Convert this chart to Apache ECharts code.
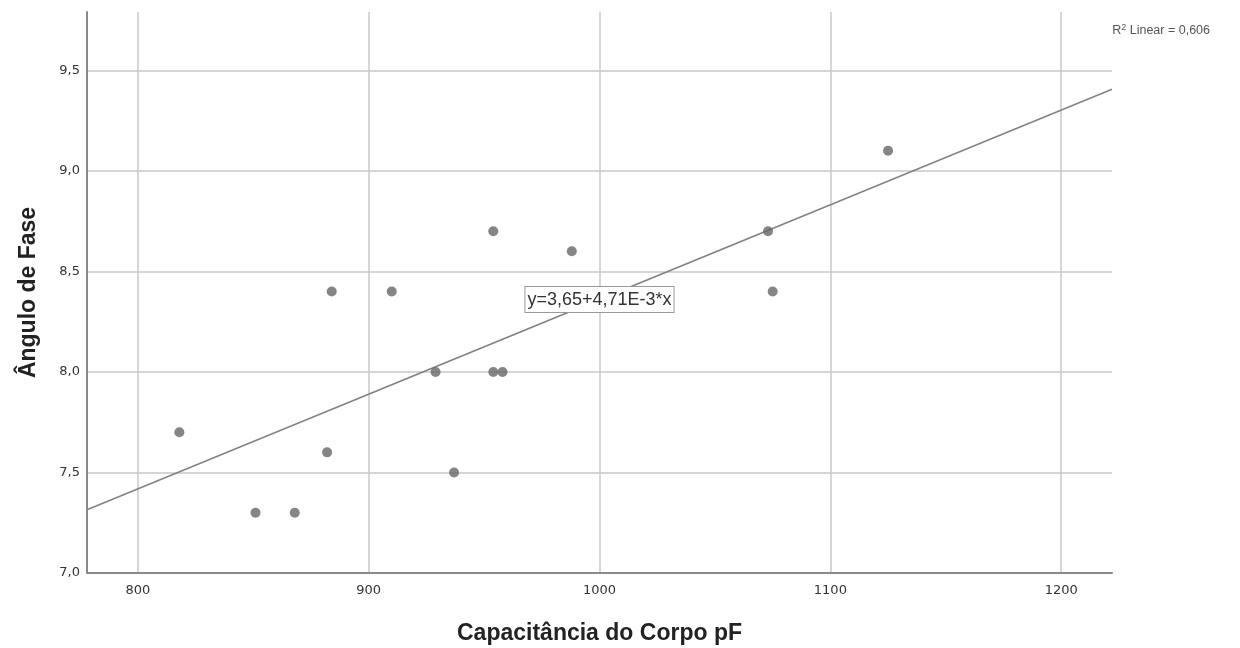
<!DOCTYPE html>
<html>
<head>
<meta charset="utf-8">
<script src="https://cdn.jsdelivr.net/npm/echarts@6/dist/echarts.min.js"></script>
<style>
html,body{margin:0;padding:0;background:#fff;}
#chart{width:1240px;height:648px;}
</style>
</head>
<body>
<div id="chart"></div>
<script>
// Capacitância do corpo (pF) versus ângulo de fase
const capacitancia = [818, 851, 868, 882, 884, 910, 929, 937, 954, 954, 958, 988, 1073, 1075, 1125];
const anguloFase   = [7.7, 7.3, 7.3, 7.6, 8.4, 8.4, 8.0, 7.5, 8.7, 8.0, 8.0, 8.6, 8.7, 8.4, 9.1];

// Linear fit reported with the chart
const intercepto = 3.65;
const inclinacao = 4.71e-3;
const r2 = '0,606';

const xTicks = [800, 900, 1000, 1100, 1200];
const xMin = 778, xMax = 1222;
const yMin = 7, yMax = 9.79, yStep = 0.5;

const pontos = capacitancia.map((c, i) => [c, anguloFase[i]]);
const reta = [[xMin, intercepto + inclinacao * xMin], [xMax, intercepto + inclinacao * xMax]];

const fmt = v => String(v).replace('.', ',');
const FONT = '"Liberation Sans", Arial, sans-serif';
const FONT_TICK = '"DejaVu Sans", Verdana, sans-serif';

const chart = echarts.init(document.getElementById('chart'), null, {renderer: 'canvas'});
chart.setOption({
  animation: false,
  backgroundColor: '#ffffff',
  grid: {left: 87, right: 128, top: 12, bottom: 75, containLabel: false, outerBoundsMode: 'none'},
  xAxis: {
    type: 'value', min: xMin, max: xMax,
    name: 'Capacitância do Corpo pF', nameLocation: 'middle', nameGap: 49, nameMoveOverlap: false,
    nameTextStyle: {fontFamily: FONT, fontSize: 23, fontWeight: 'bold', color: '#222'},
    axisLine: {show: true, onZero: false, lineStyle: {color: '#8a8a8a', width: 2}},
    axisTick: {show: false, customValues: xTicks},
    axisLabel: {customValues: xTicks, fontFamily: FONT_TICK, fontSize: 13, color: '#333', margin: 11,
      formatter: v => String(v)},
    splitLine: {show: true, showMinLine: true, showMaxLine: true, lineStyle: {color: '#c8c8c8', width: 1.5}}
  },
  yAxis: {
    type: 'value', min: yMin, max: yMax, interval: yStep,
    name: 'Ângulo de Fase', nameLocation: 'middle', nameGap: 47, nameRotate: 90, nameMoveOverlap: false,
    nameTextStyle: {fontFamily: FONT, fontSize: 23, fontWeight: 'bold', color: '#222'},
    axisLine: {show: true, onZero: false, lineStyle: {color: '#8a8a8a', width: 2}},
    axisTick: {show: false},
    axisLabel: {fontFamily: FONT_TICK, fontSize: 13, color: '#333', margin: 7, showMaxLabel: false,
      formatter: v => fmt(v.toFixed(1))},
    splitLine: {show: true, showMinLine: false, showMaxLine: false, lineStyle: {color: '#c8c8c8', width: 1.5}}
  },
  series: [
    {
      type: 'line', data: reta, symbol: 'none', silent: true,
      lineStyle: {color: '#828282', width: 1.6},
      z: 2,
      markPoint: {
        symbol: 'rect', symbolSize: 0,
        data: [{coord: [1000, 8.36], value: 0}],
        label: {
          show: true, position: 'inside',
          formatter: 'y=' + fmt(intercepto) + '+' + fmt(inclinacao * 1000) + 'E-3*x',
          fontFamily: FONT, fontSize: 18, color: '#333',
          backgroundColor: '#fff', borderColor: '#9a9a9a', borderWidth: 1,
          padding: [4, 2, 3, 2]
        }
      }
    },
    {
      type: 'scatter', data: pontos, symbol: 'circle', symbolSize: 10,
      itemStyle: {color: '#666666'}, z: 3
    }
  ],
  graphic: [{
    type: 'text', right: 30, top: 23,
    style: {
      text: '{a|R}{s|2}{a| Linear = ' + r2 + '}',
      rich: {
        a: {fontFamily: FONT, fontSize: 12.5, fill: '#555'},
        s: {fontFamily: FONT, fontSize: 9, fill: '#555', verticalAlign: 'top', padding: [0, 0, 6, 0]}
      }
    }
  }]
});
</script>
</body>
</html>
